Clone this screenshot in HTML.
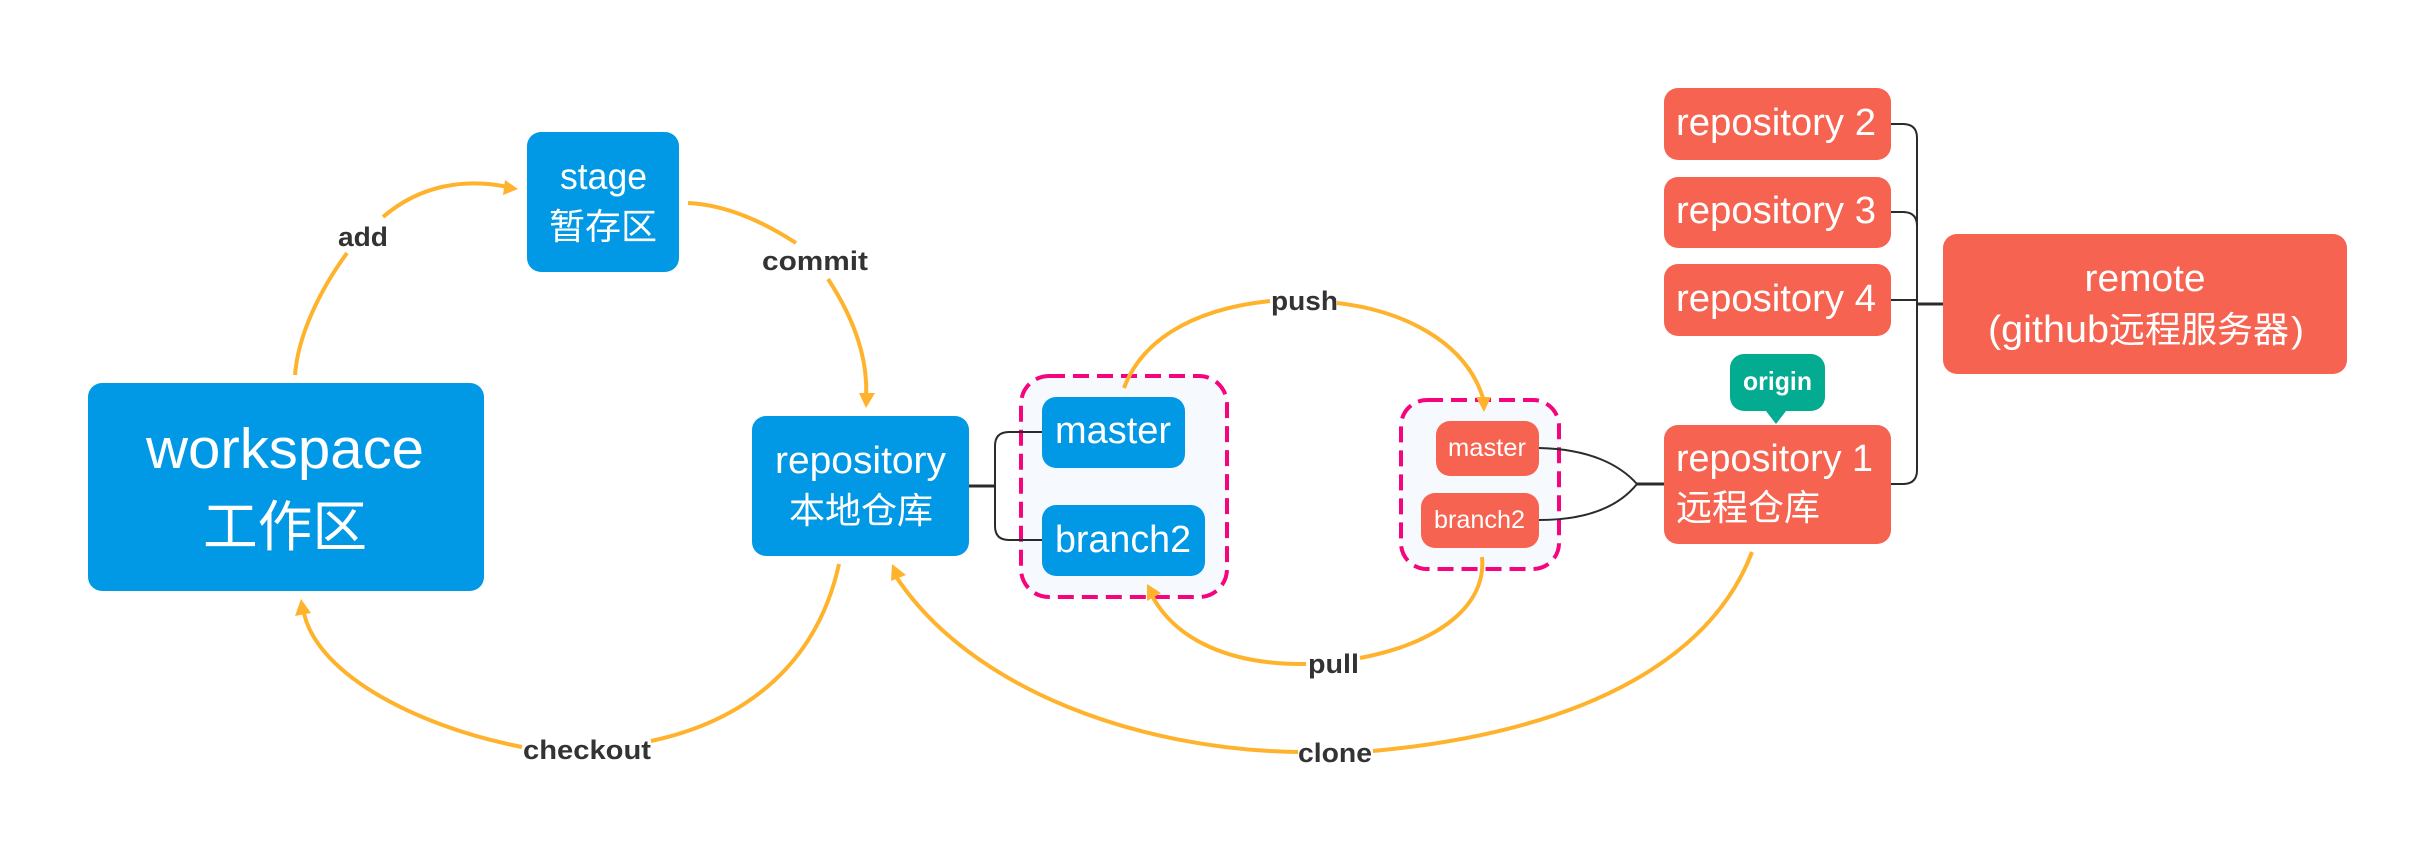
<!DOCTYPE html>
<html><head><meta charset="utf-8"><style>
html,body{margin:0;padding:0;background:#fff}
svg{display:block}
.t{font-family:"Liberation Sans","Noto Sans CJK SC",sans-serif;fill:#fff}
.c{font-family:"Liberation Sans","Noto Sans CJK SC",sans-serif;fill:#fff}
.l{font-family:"Liberation Sans",sans-serif;font-weight:700;font-size:27px;fill:#333}
.o{fill:none;stroke:#ffb32c;stroke-width:4}
.k{fill:none;stroke:#2b2b2b;stroke-width:2}
.a{fill:#ffb32c}
</style></head><body>
<svg width="2435" height="859" viewBox="0 0 2435 859" xmlns="http://www.w3.org/2000/svg">
<rect width="2435" height="859" fill="#fff"/>

<!-- dashed groups -->
<rect x="1021" y="376" width="206" height="221" rx="28" fill="#f6faff" stroke="#f5047f" stroke-width="4" stroke-dasharray="16 8"/>
<rect x="1401" y="400" width="158" height="169" rx="26" fill="#f6faff" stroke="#f5047f" stroke-width="4" stroke-dasharray="16 8"/>

<!-- black connectors -->
<path class="k" d="M969,486H995" style="stroke-width:3"/>
<path class="k" d="M1042,432H1009Q995,432 995,446V526Q995,540 1009,540H1042"/>
<path class="k" d="M1539,448C1590,449 1620,465 1637,484C1620,505 1590,520 1539,520"/>
<path class="k" d="M1637,484H1664" style="stroke-width:3"/>
<path class="k" d="M1891,124H1903Q1917,124 1917,138V470Q1917,484 1903,484H1891"/>
<path class="k" d="M1891,212H1903Q1917,212 1917,226"/>
<path class="k" d="M1891,300H1917"/>
<path class="k" d="M1917,304H1943" style="stroke-width:3"/>

<!-- nodes -->
<rect x="88" y="383" width="396" height="208" rx="14" fill="#0199e6"/>
<rect x="527" y="132" width="152" height="140" rx="14" fill="#0199e6"/>
<rect x="752" y="416" width="217" height="140" rx="14" fill="#0199e6"/>
<rect x="1042" y="397" width="143" height="71" rx="14" fill="#0199e6"/>
<rect x="1042" y="505" width="163" height="71" rx="14" fill="#0199e6"/>
<rect x="1436" y="421" width="103" height="55" rx="14" fill="#f66350"/>
<rect x="1421" y="493" width="118" height="55" rx="14" fill="#f66350"/>
<rect x="1664" y="425" width="227" height="119" rx="14" fill="#f66350"/>
<rect x="1664" y="88" width="227" height="72" rx="14" fill="#f66350"/>
<rect x="1664" y="177" width="227" height="71" rx="14" fill="#f66350"/>
<rect x="1664" y="264" width="227" height="72" rx="14" fill="#f66350"/>
<rect x="1943" y="234" width="404" height="140" rx="14" fill="#f66350"/>
<rect x="1730" y="354" width="95" height="57" rx="14" fill="#03ab91"/>
<path d="M1766,411H1786L1776,424Z" fill="#03ab91"/>

<!-- node text -->
<text class="t" x="146" y="468" font-size="57" textLength="278" lengthAdjust="spacingAndGlyphs">workspace</text>
<text class="c" x="203" y="546" font-size="55" textLength="164" lengthAdjust="spacingAndGlyphs">工作区</text>
<text class="t" x="560" y="189" font-size="37" textLength="87" lengthAdjust="spacingAndGlyphs">stage</text>
<text class="c" x="549" y="239" font-size="36" textLength="108" lengthAdjust="spacingAndGlyphs">暂存区</text>
<text class="t" x="775" y="473" font-size="38" textLength="171" lengthAdjust="spacingAndGlyphs">repository</text>
<text class="c" x="789" y="523" font-size="36" textLength="144" lengthAdjust="spacingAndGlyphs">本地仓库</text>
<text class="t" x="1055" y="443" font-size="38" textLength="116" lengthAdjust="spacingAndGlyphs">master</text>
<text class="t" x="1055" y="552" font-size="38" textLength="136" lengthAdjust="spacingAndGlyphs">branch2</text>
<text class="t" x="1448" y="456" font-size="25" textLength="78" lengthAdjust="spacingAndGlyphs">master</text>
<text class="t" x="1434" y="528" font-size="25" textLength="91" lengthAdjust="spacingAndGlyphs">branch2</text>
<text class="t" x="1676" y="471" font-size="38" textLength="197" lengthAdjust="spacingAndGlyphs">repository 1</text>
<text class="c" x="1676" y="520" font-size="36" textLength="144" lengthAdjust="spacingAndGlyphs">远程仓库</text>
<text class="t" x="1676" y="135" font-size="38" textLength="200" lengthAdjust="spacingAndGlyphs">repository 2</text>
<text class="t" x="1676" y="223" font-size="38" textLength="200" lengthAdjust="spacingAndGlyphs">repository 3</text>
<text class="t" x="1676" y="311" font-size="38" textLength="200" lengthAdjust="spacingAndGlyphs">repository 4</text>
<text class="t" x="2084.5" y="291" font-size="38" textLength="121" lengthAdjust="spacingAndGlyphs">remote</text>
<text class="t" x="1988" y="342" font-size="38" textLength="121" lengthAdjust="spacingAndGlyphs">(github</text>
<text class="c" x="2109" y="342" font-size="36" textLength="180" lengthAdjust="spacingAndGlyphs">远程服务器</text>
<text class="t" x="2291" y="342" font-size="36" textLength="13" lengthAdjust="spacingAndGlyphs">)</text>
<text class="t" x="1743" y="390" font-size="26" font-weight="700" textLength="69" lengthAdjust="spacingAndGlyphs">origin</text>

<!-- orange curves -->
<path class="o" d="M295,375C298,335 320,290 347,253"/>
<path class="o" d="M383,217C420,185 465,178 508,187"/>
<path class="o" d="M688,203C730,205 768,225 796,243"/>
<path class="o" d="M828,279C855,320 868,360 866,396"/>
<path class="o" d="M839,564C818,660 750,720 651,741"/>
<path class="o" d="M522,747C410,725 312,670 303,608"/>
<path class="o" d="M1124,388C1140,345 1185,310 1270,301"/>
<path class="o" d="M1337,303C1400,310 1465,340 1483,398"/>
<path class="o" d="M1482,557C1487,610 1430,645 1360,658"/>
<path class="o" d="M1306,664C1230,665 1175,640 1151,594"/>
<path class="o" d="M1752,552C1715,650 1600,730 1373,751"/>
<path class="o" d="M1298,752C1140,750 970,690 895,575"/>
<path class="a" d="M518,189L505,180L503,195Z"/>
<path class="a" d="M866,408L859,393H875Z"/>
<path class="a" d="M301,599L295,616L311,613Z"/>
<path class="a" d="M1484,412L1476,397H1491Z"/>
<path class="a" d="M1147,584V601L1161,593Z"/>
<path class="a" d="M892,564L891,581L906,575Z"/>

<!-- labels -->
<text class="l" x="338" y="246" textLength="50" lengthAdjust="spacingAndGlyphs">add</text>
<text class="l" x="762" y="270" textLength="106" lengthAdjust="spacingAndGlyphs">commit</text>
<text class="l" x="1271" y="310" textLength="67" lengthAdjust="spacingAndGlyphs">push</text>
<text class="l" x="1308" y="673" textLength="51" lengthAdjust="spacingAndGlyphs">pull</text>
<text class="l" x="1298" y="762" textLength="74" lengthAdjust="spacingAndGlyphs">clone</text>
<text class="l" x="523" y="759" textLength="128" lengthAdjust="spacingAndGlyphs">checkout</text>
</svg>
</body></html>
